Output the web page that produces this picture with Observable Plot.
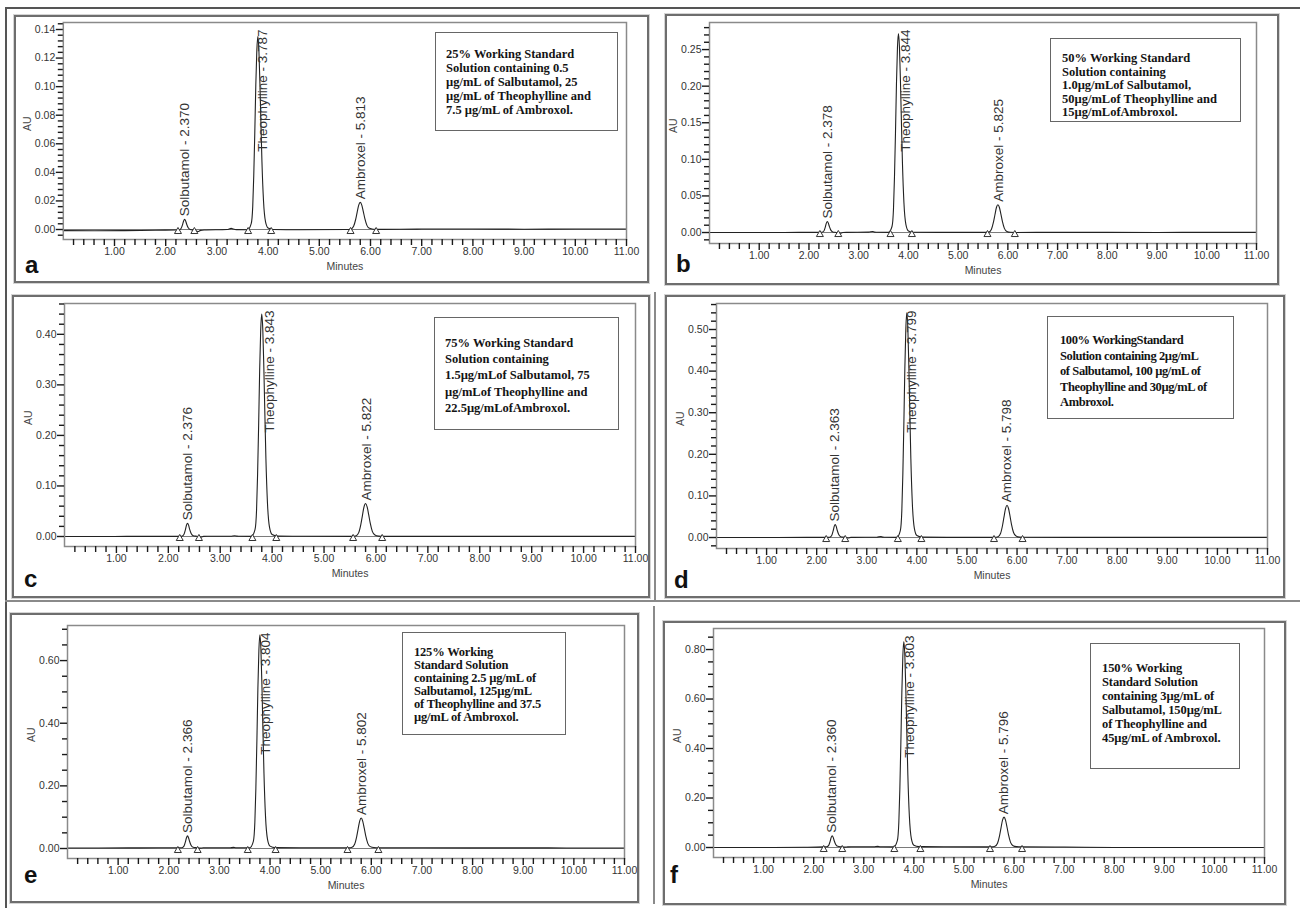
<!DOCTYPE html>
<html><head><meta charset="utf-8">
<script src="https://cdn.jsdelivr.net/npm/d3@7"></script>
<script src="https://cdn.jsdelivr.net/npm/@observablehq/plot@0.6"></script>
<style>
body{margin:0;background:#fff;}
#fig{position:relative;width:1303px;height:908px;overflow:hidden;background:#fff;}
.box{position:absolute;box-sizing:border-box;border:2px solid #6e6e6e;pointer-events:none;box-shadow:0 0 0 1px #d4d4d4;}
.leg{position:absolute;box-sizing:border-box;border:1.5px solid #666;background:#fff;font-family:"Liberation Serif","Times New Roman",serif;font-weight:bold;color:#141414;white-space:nowrap;}
.letter{position:absolute;font-family:"Liberation Sans",Arial,sans-serif;font-weight:bold;font-size:24px;line-height:1;color:#111;}
.rule{position:absolute;background:#555;}
svg{max-width:none !important;}
</style></head><body><div id="fig"></div><script>
// ---------- data ----------
const times = [0, 0.6, 1.2, 1.8, 2.20, 2.26, 2.30, 2.33, 2.35, 2.37, 2.39, 2.41, 2.44, 2.48, 2.55, 2.63, 2.68, 2.75,
  3.20, 3.28, 3.32, 3.38, 3.60,
  3.67, 3.70, 3.72, 3.74, 3.76, 3.78, 3.80, 3.82, 3.84, 3.86, 3.88, 3.91, 3.95, 4.00, 4.10,
  4.60,
  5.55, 5.62, 5.67, 5.71, 5.74, 5.77, 5.80, 5.83, 5.86, 5.89, 5.93, 5.98, 6.05, 6.15,
  7.0, 8.0, 9.0, 10.0, 11.0];

const auA = [-0.0008, -0.0009, -0.0008, -0.0005,
  -0.0004, -0.0003, 0.0007, 0.0035, 0.0060, 0.0071, 0.0060, 0.0037, 0.0012, 0.0000, -0.0004, -0.0014, -0.0006, -0.0003,
  0.0000, 0.0008, 0.0003, -0.0001, -0.0002,
  0.0041, 0.0162, 0.0378, 0.0675, 0.1013, 0.1256, 0.1350, 0.1256, 0.1026, 0.0743, 0.0473, 0.0203, 0.0054, 0.0011, 0.0000,
  -0.0002,
  0.0000, 0.0004, 0.0023, 0.0070, 0.0122, 0.0171, 0.0190, 0.0171, 0.0125, 0.0076, 0.0029, 0.0008, 0.0002, 0.0001,
  0.0003, 0.0003, 0.0002, 0.0003, 0.0003];
const auB = [0.0000, 0.0000, 0.0000, 0.0002,
  0.0002, 0.0003, 0.0021, 0.0078, 0.0128, 0.0150, 0.0128, 0.0083, 0.0033, 0.0008, 0.0001, -0.0010, 0.0000, 0.0002,
  0.0005, 0.0015, 0.0006, 0.0003, 0.0002,
  0.0082, 0.0326, 0.0762, 0.1360, 0.2040, 0.2530, 0.2720, 0.2530, 0.2067, 0.1496, 0.0952, 0.0408, 0.0109, 0.0022, 0.0003,
  0.0002,
  0.0002, 0.0008, 0.0046, 0.0141, 0.0243, 0.0342, 0.0380, 0.0342, 0.0251, 0.0152, 0.0057, 0.0015, 0.0003, 0.0001,
  0.0002, 0.0002, 0.0001, 0.0002, 0.0002];
const auC = [0.0000, 0.0000, 0.0002, 0.0003,
  0.0003, 0.0006, 0.0039, 0.0138, 0.0224, 0.0263, 0.0224, 0.0146, 0.0060, 0.0016, 0.0004, -0.0012, 0.0002, 0.0004,
  0.0006, 0.0014, 0.0008, 0.0004, 0.0003,
  0.0135, 0.0531, 0.1235, 0.2203, 0.3303, 0.4095, 0.4403, 0.4095, 0.3347, 0.2423, 0.1543, 0.0663, 0.0179, 0.0038, 0.0007,
  0.0004,
  0.0003, 0.0016, 0.0081, 0.0244, 0.0419, 0.0588, 0.0653, 0.0588, 0.0432, 0.0263, 0.0101, 0.0029, 0.0008, 0.0003,
  0.0003, 0.0002, 0.0002, 0.0002, 0.0002];
const auD = [0.0000, 0.0001, 0.0002, 0.0003,
  0.0004, 0.0007, 0.0047, 0.0165, 0.0268, 0.0314, 0.0268, 0.0175, 0.0072, 0.0020, 0.0005, -0.0010, 0.0003, 0.0004,
  0.0008, 0.0022, 0.0010, 0.0005, 0.0004,
  0.0166, 0.0652, 0.1516, 0.2704, 0.4054, 0.5026, 0.5404, 0.5026, 0.4108, 0.2974, 0.1894, 0.0814, 0.0220, 0.0047, 0.0009,
  0.0004,
  0.0004, 0.0019, 0.0096, 0.0289, 0.0497, 0.0697, 0.0774, 0.0697, 0.0512, 0.0312, 0.0120, 0.0035, 0.0010, 0.0005,
  0.0004, 0.0003, 0.0003, 0.0003, 0.0003];
const auE = [0.0015, 0.0018, 0.0020, 0.0022,
  0.0022, 0.0026, 0.0075, 0.0220, 0.0345, 0.0402, 0.0345, 0.0231, 0.0106, 0.0041, 0.0024, 0.0012, 0.0022, 0.0022,
  0.0024, 0.0035, 0.0026, 0.0023, 0.0022,
  0.0226, 0.0838, 0.1926, 0.3422, 0.5122, 0.6346, 0.6822, 0.6346, 0.5190, 0.3762, 0.2402, 0.1042, 0.0294, 0.0076, 0.0029,
  0.0022,
  0.0022, 0.0041, 0.0136, 0.0374, 0.0630, 0.0877, 0.0972, 0.0877, 0.0649, 0.0402, 0.0165, 0.0060, 0.0030, 0.0023,
  0.0022, 0.0020, 0.0020, 0.0018, 0.0018];
const auF = [0.0000, 0.0000, 0.0002, 0.0010,
  0.0025, 0.0030, 0.0088, 0.0259, 0.0408, 0.0475, 0.0408, 0.0273, 0.0124, 0.0048, 0.0027, 0.0015, 0.0025, 0.0028,
  0.0030, 0.0045, 0.0032, 0.0028, 0.0027,
  0.0276, 0.1023, 0.2351, 0.4177, 0.6252, 0.7746, 0.8327, 0.7746, 0.6335, 0.4592, 0.2932, 0.1272, 0.0359, 0.0093, 0.0035,
  0.0028,
  0.0027, 0.0051, 0.0171, 0.0471, 0.0795, 0.1107, 0.1227, 0.1107, 0.0819, 0.0507, 0.0207, 0.0075, 0.0037, 0.0028,
  0.0020, 0.0002, 0.0000, 0.0000, 0.0000];
const traces = [auA, auB, auC, auD, auE, auF];

const panelLetters = ["a", "b", "c", "d", "e", "f"];
const peakNames = ["Solbutamol", "Theophylline", "Ambroxel"];
const rtSalb = [2.370, 2.378, 2.376, 2.363, 2.366, 2.360];
const rtTheo = [3.787, 3.844, 3.843, 3.799, 3.804, 3.803];
const rtAmbr = [5.813, 5.825, 5.822, 5.798, 5.802, 5.796];
const peakLimits = [
  [2.24, 2.56, 3.61, 4.06, 5.61, 6.11],
  [2.22, 2.59, 3.64, 4.07, 5.59, 6.14],
  [2.22, 2.59, 3.62, 4.08, 5.56, 6.12],
  [2.19, 2.57, 3.62, 4.09, 5.54, 6.11],
  [2.18, 2.57, 3.56, 4.11, 5.53, 6.14],
  [2.20, 2.57, 3.61, 4.13, 5.52, 6.16]];
const yTicks = [
  [0, 0.02, 0.04, 0.06, 0.08, 0.10, 0.12, 0.14],
  [0, 0.05, 0.10, 0.15, 0.20, 0.25],
  [0, 0.10, 0.20, 0.30, 0.40],
  [0, 0.10, 0.20, 0.30, 0.40, 0.50],
  [0, 0.20, 0.40, 0.60],
  [0, 0.20, 0.40, 0.60, 0.80]];
const xTicks = [1, 2, 3, 4, 5, 6, 7, 8, 9, 10, 11];
const yLabel = "AU";
const xLabel = "Minutes";
const legendLines = [
  ["25% Working Standard", "Solution containing 0.5", "µg/mL of Salbutamol, 25", "µg/mL of Theophylline and", "7.5 µg/mL of Ambroxol."],
  ["50% Working Standard", "Solution containing", "1.0µg/mLof Salbutamol,", "50µg/mLof Theophylline and", "15µg/mLofAmbroxol."],
  ["75% Working Standard", "Solution containing", "1.5µg/mLof Salbutamol, 75", "µg/mLof Theophylline and", "22.5µg/mLofAmbroxol."],
  ["100%  WorkingStandard", "Solution containing 2µg/mL", "of Salbutamol, 100 µg/mL of", "Theophylline and 30µg/mL of", "Ambroxol."],
  ["125% Working", "Standard Solution", "containing 2.5 µg/mL of", "Salbutamol, 125µg/mL", "of Theophylline and 37.5", "µg/mL of Ambroxol."],
  ["150% Working", "Standard Solution", "containing 3µg/mL of", "Salbutamol, 150µg/mL", "of Theophylline and", "45µg/mL of Ambroxol."]];

// ---------- layout ----------
const layout = [
  {box: [14, 15, 649, 283], x0: 62.8, x1: 626, top: 22, bottom: 239, y: [-0.007, 0.1449], minor: 0.004, leg: [435, 32, 183, 99, 10, 14, 14, 12.5, 0], letter: [32, 273]},
  {box: [665, 14, 1279, 285], x0: 709, x1: 1256, top: 22, bottom: 243, y: [-0.015, 0.287], minor: 0.01, leg: [1050, 38, 191, 84, 11, 13, 13.5, 12.5, 0], letter: [683, 272]},
  {box: [12, 295, 650, 598], x0: 64, x1: 635, top: 303, bottom: 546, y: [-0.0198, 0.461], minor: 0.02, leg: [434, 317, 185, 113, 10, 17, 16.2, 12.5, 0], letter: [31, 587]},
  {box: [665, 295, 1285, 598], x0: 716, x1: 1267, top: 303, bottom: 548, y: [-0.0264, 0.5625], minor: 0.02, leg: [1047, 316, 187, 103, 12, 16, 15.5, 12.5, -0.4], letter: [681, 588]},
  {box: [10, 613, 639, 903], x0: 67, x1: 624, top: 625, bottom: 858, y: [-0.0319, 0.712], minor: 0.05, leg: [402, 632, 164, 103, 11, 13, 13, 12.5, -0.2], letter: [31, 883]},
  {box: [663, 621, 1286, 905], x0: 713, x1: 1264, top: 628, bottom: 857, y: [-0.0404, 0.885], minor: 0.05, leg: [1090, 643, 150, 126, 11, 17, 14, 12.5, -0.1], letter: [677, 883]}];

const fig = document.getElementById("fig");
function addDiv(cls, css) {
  const d = document.createElement("div");
  d.className = cls;
  Object.assign(d.style, css);
  fig.appendChild(d);
  return d;
}
// figure outer lines
addDiv("rule", {left: "5px", top: "7px", width: "1295px", height: "1.5px"});
addDiv("rule", {left: "5px", top: "7px", width: "1.5px", height: "901px"});
addDiv("rule", {left: "5px", top: "600px", width: "1295px", height: "1.5px", background: "#8a8a8a"});
addDiv("rule", {left: "654px", top: "292px", width: "1.5px", height: "308px", background: "#8a8a8a"});
addDiv("rule", {left: "653px", top: "606px", width: "1.5px", height: "298px", background: "#8a8a8a"});

const fmt2 = d3.format(".2f");
const tickInk = "#1a1a1a";
layout.forEach((L, i) => {
  const [bl, bt, br, bb] = L.box;
  const W = br - bl, H = bb - bt;
  const mL = L.x0 - bl, mR = br - L.x1, mT = L.top - bt, mB = bb - L.bottom;
  const rows = times.map((t, j) => ({t, au: traces[i][j]}));
  const apex = rt => d3.max(rows.filter(r => Math.abs(r.t - rt) < 0.1), r => r.au);
  const small = [{rt: rtSalb[i], name: peakNames[0]}, {rt: rtAmbr[i], name: peakNames[2]}]
    .map(d => ({...d, y: apex(d.rt), label: `${d.name} - ${d.rt.toFixed(3)}`}));
  const theo = [{rt: rtTheo[i], label: `${peakNames[1]} - ${rtTheo[i].toFixed(3)}`}];
  const [y0, y1] = L.y;
  const yMinor = d3.range(Math.ceil(y0 / L.minor - 1e-9), Math.floor(y1 / L.minor + 1e-9) + 1)
    .map(k => k * L.minor)
    .filter(v => !yTicks[i].some(m => Math.abs(m - v) < 1e-6));
  const xMinor = d3.range(1, 55).map(k => k * 0.2).filter(v => Math.abs(v - Math.round(v)) > 1e-6);

  const svg = Plot.plot({
    width: W, height: H,
    marginLeft: mL, marginRight: mR, marginTop: mT, marginBottom: mB,
    x: {domain: [0, 11]},
    y: {domain: L.y},
    style: {fontFamily: "'Liberation Sans', Arial, sans-serif", fontSize: "10.5px", color: "#333", background: "transparent", overflow: "visible"},
    marks: [
      Plot.ruleY([0], {stroke: "#7a7a7a", strokeWidth: 1}),
      Plot.line(rows, {x: "t", y: "au", curve: "monotone-x", stroke: "#222", strokeWidth: 1.1}),
      Plot.dot(peakLimits[i], {x: d => d, y: () => 0, symbol: "triangle", r: 2.6, stroke: "#333", fill: "white", strokeWidth: 1, dy: 2}),
      Plot.text(small, {x: "rt", y: "y", text: "label", rotate: -90, textAnchor: "start", dy: -3, fontSize: 13.5, fill: "#333"}),
      Plot.text(theo, {x: "rt", text: "label", frameAnchor: "top", rotate: -90, textAnchor: "end", dy: 7, fontSize: 13.5, fill: "#333"}),
      Plot.frame({stroke: "#8a8a8a", strokeWidth: 1.5}),
      Plot.axisY({ticks: yMinor, tickSize: 5, tickFormat: () => "", label: null, stroke: tickInk, strokeWidth: 1.4}),
      Plot.axisX({ticks: xMinor, tickSize: 6, tickFormat: () => "", label: null, stroke: tickInk, strokeWidth: 1.4}),
      Plot.axisY({ticks: yTicks[i], tickSize: 7, tickPadding: 1, tickFormat: fmt2, label: null, stroke: tickInk, strokeWidth: 1.4}),
      Plot.axisX({ticks: xTicks, tickSize: 7, tickPadding: 1, tickFormat: fmt2, label: null, stroke: tickInk, strokeWidth: 1.4}),
      Plot.text([yLabel], {frameAnchor: "left", dx: -36, rotate: -90, text: d => d, fontSize: 10.5, fill: "#444"}),
      Plot.text([xLabel], {frameAnchor: "bottom", dy: 30, text: d => d, fontSize: 10.5, fill: "#444"})
    ]
  });
  svg.style.position = "absolute";
  svg.style.left = bl + "px";
  svg.style.top = bt + "px";
  fig.appendChild(svg);

  addDiv("box", {left: bl + "px", top: bt + "px", width: W + "px", height: H + "px"});

  const [ll, lt, lw, lh, pl, pt, lineH, fs, ls] = L.leg;
  const leg = addDiv("leg", {left: ll + "px", top: lt + "px", width: lw + "px", height: lh + "px",
    padding: `${pt}px 0 0 ${pl}px`, lineHeight: lineH + "px", fontSize: fs + "px", letterSpacing: ls + "px"});
  legendLines[i].forEach(line => {
    const d = document.createElement("div");
    d.textContent = line;
    leg.appendChild(d);
  });

  const [cx, base] = L.letter;
  const let_ = addDiv("letter", {left: (cx - 7) + "px", top: (base - 20) + "px"});
  let_.textContent = panelLetters[i];
});
</script></body></html>
